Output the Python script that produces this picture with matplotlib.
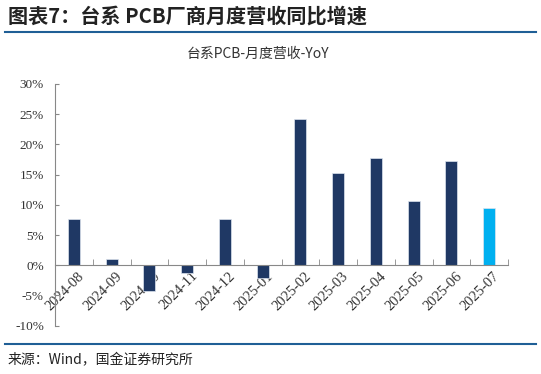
import matplotlib
matplotlib.use("Agg")
import matplotlib.pyplot as plt
import numpy as np

# --- data (YoY %) ---
months = ["2024-08", "2024-09", "2024-10", "2024-11", "2024-12", "2025-01",
          "2025-02", "2025-03", "2025-04", "2025-05", "2025-06", "2025-07"]
yoy = [7.7, 1.0, -4.2, -1.3, 7.7, -2.1, 24.2, 15.2, 17.7, 10.7, 17.2, 9.4]
yticks = [-10, -5, 0, 5, 10, 15, 20, 25, 30]

DARK = "#1F3864"
LIGHT = "#00B0F0"
RULE = "#1F5F96"
CJK = ["Noto Sans CJK SC", "DejaVu Sans"]
SERIF = ["Liberation Serif", "DejaVu Serif"]

fig = plt.figure(figsize=(5.41, 3.74), dpi=100)

# header / footer
fig.text(8 / 541, 1 - 16 / 374, "图表7：台系 PCB厂商月度营收同比增速", family=CJK,
         fontsize=14.5, fontweight="bold", color="#222222", va="center", ha="left")
fig.add_artist(plt.Line2D([5 / 541, 536 / 541], [1 - 32 / 374] * 2, color=RULE, lw=1.5))
fig.add_artist(plt.Line2D([5 / 541, 536 / 541], [1 - 344 / 374] * 2, color=RULE, lw=1.5))
fig.text(8 / 541, 1 - 360 / 374, "来源：Wind，国金证券研究所", family=CJK,
         fontsize=10, color="#222222", va="center", ha="left")
fig.text(257.5 / 541, 1 - 54 / 374, "台系PCB-月度营收-YoY", family=CJK,
         fontsize=10, color="#333333", va="center", ha="center")

ax = fig.add_axes([55 / 541, 1 - 325.7 / 374, (508 - 55) / 541, (325.7 - 84) / 374])

x = np.arange(len(months))
colors = [DARK] * (len(months) - 1) + [LIGHT]
ax.bar(x, yoy, width=0.32, color=colors, edgecolor="#dde3ee", linewidth=0.5, zorder=2)

ax.set_xlim(-0.5, len(months) - 0.5)
ax.set_ylim(-10, 30)
ax.set_yticks(yticks)
ax.set_yticklabels([f"{v}%" for v in yticks], family=SERIF, fontsize=9.5, color="#333333")

for s in ["top", "right"]:
    ax.spines[s].set_visible(False)
ax.spines["left"].set_color("#888888")
ax.spines["bottom"].set_color("#888888")
ax.spines["bottom"].set_position(("data", 0))
ax.tick_params(axis="y", direction="in", length=3, color="#888888", pad=8)

ax.set_xticks(x + 0.1)
ax.set_xticklabels(months, family=SERIF, fontsize=10.5, color="#333333",
                   rotation=45, ha="right", va="top", rotation_mode="anchor")
ax.tick_params(axis="x", which="major", length=0, pad=3)
ax.set_xticks(np.arange(-0.5, len(months)), minor=True)
ax.tick_params(axis="x", which="minor", direction="in", length=4, color="#888888")

fig.savefig("out.png", dpi=100)
